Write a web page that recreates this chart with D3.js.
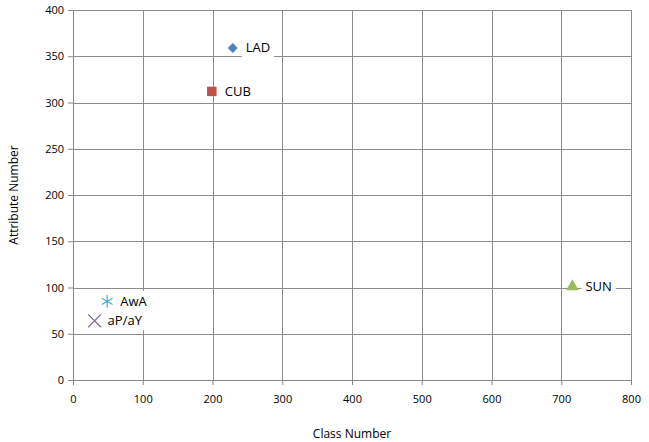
<!DOCTYPE html>
<html>
<head>
<meta charset="utf-8">
<script src="https://cdn.jsdelivr.net/npm/d3@7"></script>
<style>
  body { margin: 0; background: #fff; }
  text { font-family: "Open Sans", "Liberation Sans", sans-serif; fill: #000; }
</style>
</head>
<body>
<div id="chart"></div>
<script>
// Data
var names = ["LAD", "CUB", "SUN", "AwA", "aP/aY"];
var classNumber = [229, 199, 716, 49, 31];
var attributeNumber = [359, 312, 101, 85, 64];
var xTicks = [0, 100, 200, 300, 400, 500, 600, 700, 800];
var yTicks = [0, 50, 100, 150, 200, 250, 300, 350, 400];

var colors = ["#4F81BD", "#C0504D", "#9BBB59", "#4BACC6", "#8064A2"];
var shapes = ["diamond", "square", "triangle", "star", "cross"];

// Dimensions and margins
var margin = {top: 10, right: 18, bottom: 62, left: 73},
    width = 649 - margin.left - margin.right,
    height = 442 - margin.top - margin.bottom;

var svg = d3.select("#chart")
    .append("svg")
    .attr("width", 649)
    .attr("height", 442)
    .append("g")
    .attr("transform", "translate(" + margin.left + "," + margin.top + ")");

var x = d3.scaleLinear().domain([0, 800]).range([0, width]);
var y = d3.scaleLinear().domain([0, 400]).range([height, 0]);

// Gridlines
svg.append("g")
    .selectAll("line.gx")
    .data(xTicks)
    .enter()
    .append("line")
    .attr("x1", function (d) { return Math.round(x(d)) + 0.5; })
    .attr("x2", function (d) { return Math.round(x(d)) + 0.5; })
    .attr("y1", 0)
    .attr("y2", height)
    .attr("stroke", "#8c8c8c")
    .attr("stroke-width", 1);

svg.append("g")
    .selectAll("line.gy")
    .data(yTicks)
    .enter()
    .append("line")
    .attr("y1", function (d) { return Math.round(y(d)) + 0.5; })
    .attr("y2", function (d) { return Math.round(y(d)) + 0.5; })
    .attr("x1", 0)
    .attr("x2", width)
    .attr("stroke", "#8c8c8c")
    .attr("stroke-width", 1);

// Axes
var xAxis = svg.append("g")
    .attr("transform", "translate(0," + height + ")")
    .call(d3.axisBottom(x).tickValues(xTicks).tickSize(5).tickSizeOuter(0).tickPadding(10));

var yAxis = svg.append("g")
    .call(d3.axisLeft(y).tickValues(yTicks).tickSize(5).tickSizeOuter(0).tickPadding(4));

[xAxis, yAxis].forEach(function (a) {
    a.select(".domain").attr("stroke", "#868686");
    a.selectAll(".tick line").attr("stroke", "#868686");
    a.selectAll("text").style("font-size", "11px").attr("fill", "#000");
});

// Axis titles
svg.append("text")
    .attr("x", width / 2)
    .attr("y", height + 58)
    .attr("text-anchor", "middle")
    .style("font-size", "12px")
    .text("Class Number");

svg.append("text")
    .attr("transform", "translate(" + (-55) + "," + (height / 2) + ") rotate(-90)")
    .attr("text-anchor", "middle")
    .style("font-size", "12px")
    .text("Attribute Number");

// Symbols (diamond = square turned 45 degrees)
var symbolType = {
    diamond: d3.symbolSquare,
    square: d3.symbolSquare,
    triangle: d3.symbolTriangle,
    star: d3.symbolAsterisk,
    cross: d3.symbolTimes
};
var symbolSize = {diamond: 50, square: 90, triangle: 70, star: 110, cross: 110};

var points = names.map(function (n, i) {
    return {name: n, cx: classNumber[i], cy: attributeNumber[i], color: colors[i], shape: shapes[i]};
});

var pts = svg.append("g")
    .selectAll("g.pt")
    .data(points)
    .enter()
    .append("g")
    .attr("transform", function (d) { return "translate(" + x(d.cx) + "," + y(d.cy) + ")"; });

pts.append("path")
    .attr("d", function (d) {
        return d3.symbol().type(symbolType[d.shape]).size(symbolSize[d.shape])();
    })
    .attr("transform", function (d) { return d.shape === "diamond" ? "rotate(45)" : null; })
    .attr("fill", function (d) { return (d.shape === "star" || d.shape === "cross") ? "none" : d.color; })
    .attr("stroke", function (d) { return (d.shape === "star" || d.shape === "cross") ? d.color : "none"; })
    .attr("stroke-width", 1.2);

// Labels with white boxes
pts.each(function (d) {
    var g = d3.select(this);
    var box = g.append("rect").attr("fill", "#fff");
    var t = g.append("text")
        .attr("x", 13)
        .attr("y", 4.5)
        .style("font-size", "13px")
        .text(d.name);
    var bb = t.node().getBBox();
    box.attr("x", bb.x - 4)
        .attr("y", bb.y - 1)
        .attr("width", bb.width + 8)
        .attr("height", bb.height + 2);
});
</script>
</body>
</html>
